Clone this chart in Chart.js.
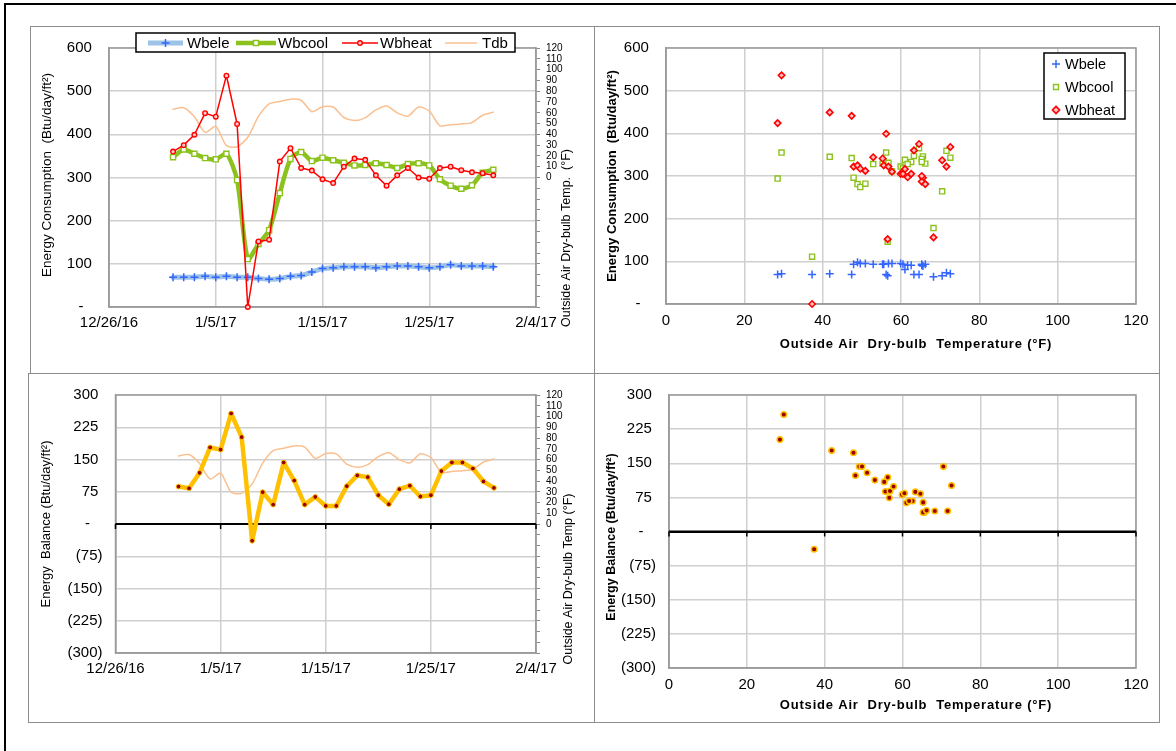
<!DOCTYPE html>
<html>
<head>
<meta charset="utf-8">
<script src="https://cdn.jsdelivr.net/npm/chart.js@4.4.0/dist/chart.umd.min.js"></script>
<style>
  body { margin:0; background:#fff; width:1176px; height:751px; overflow:hidden; position:relative; font-family:"Liberation Sans", Arial, sans-serif; }
  #frame { position:absolute; left:4px; top:3px; width:1200px; height:800px; border-left:2px solid #000; border-top:2px solid #000; }
  .panel { position:absolute; border:1px solid #8c8c8c; box-sizing:border-box; }
  canvas { position:absolute; }
</style>
</head>
<body>
<div id="frame"></div>
<div class="panel" style="left:30px;top:26px;width:565px;height:348px"></div>
<div class="panel" style="left:594px;top:26px;width:566px;height:348px"></div>
<div class="panel" style="left:28px;top:373px;width:567px;height:350px"></div>
<div class="panel" style="left:594px;top:373px;width:566px;height:350px"></div>
<canvas id="consTime" width="564" height="347" style="left:30px;top:26px"></canvas>
<canvas id="consTemp" width="565" height="347" style="left:594px;top:26px"></canvas>
<canvas id="balTime" width="566" height="349" style="left:28px;top:373px"></canvas>
<canvas id="balTemp" width="565" height="349" style="left:594px;top:373px"></canvas>
<script>
// daily values, 1/1/17 .. 1/31/17
const dates = ['1/1/17','1/2/17','1/3/17','1/4/17','1/5/17','1/6/17','1/7/17','1/8/17','1/9/17','1/10/17',
  '1/11/17','1/12/17','1/13/17','1/14/17','1/15/17','1/16/17','1/17/17','1/18/17','1/19/17','1/20/17',
  '1/21/17','1/22/17','1/23/17','1/24/17','1/25/17','1/26/17','1/27/17','1/28/17','1/29/17','1/30/17','1/31/17'];
const wbele  = [69,69,69,71,69,71,69,69,66,64,66,71,73,81,89,91,93,93,93,91,93,95,95,93,91,93,98,95,95,95,93];
const wbcool = [347,365,355,345,342,355,294,111,146,178,264,343,359,338,346,340,334,328,329,333,329,322,331,333,328,296,281,274,282,311,318];
const wbheat = [360,375,399,449,441,536,424,0,152,156,337,368,322,316,296,287,325,344,341,305,281,305,322,300,297,322,325,317,312,310,305];
const tdb    = [63.3,64.6,56.2,41.8,47.4,29.5,28.5,37.3,56.6,68.3,70.5,72.6,71.6,61,65.6,65.3,55.6,52.9,55.3,62.6,66.2,59.9,56.8,65.3,61.7,47.9,48.9,49.6,50.9,57.7,60.5];
const balance = [87,83,119,178,173,257,202,-39,74,45,143,101,45,63,42,42,88,113,109,67,46,81,89,64,67,123,143,143,129,99,84];

const dateTicks = ['12/26/16','1/5/17','1/15/17','1/25/17','2/4/17'];
const dateTickDays = [0,10,20,30,40];
const consumptionTicks = [0,100,200,300,400,500,600];
const balanceTicks = [-300,-225,-150,-75,0,75,150,225,300];
const tempTicks = [0,20,40,60,80,100,120];

Chart.defaults.font.family = '"Liberation Sans", Arial, sans-serif';
Chart.defaults.color = '#000';
Chart.defaults.animation = false;

const FONT = '"Liberation Sans", Arial, sans-serif';
const GRID = '#CFCFCF';
const EDGE = '#9A9A9A';
const origin = Date.UTC(2016, 11, 26);

function dayOf(s) {
  const [m, d, y] = s.split('/').map(Number);
  return (Date.UTC(2000 + y, m - 1, d) - origin) / 864e5;
}
function acct(v) {
  if (v === 0) return '-   ';
  if (v < 0) return '(' + (-v) + ')';
  return v + ' ';
}
function fixTicks(arr) {
  return s => { s.ticks = arr.map(v => ({ value: v })); };
}

function markPoint(ctx, style, x, y, r, stroke, fill, lw) {
  ctx.save();
  ctx.lineWidth = lw; ctx.strokeStyle = stroke; ctx.fillStyle = fill;
  ctx.beginPath();
  if (style === 'cross') {
    ctx.moveTo(x - r, y); ctx.lineTo(x + r, y); ctx.moveTo(x, y - r); ctx.lineTo(x, y + r); ctx.stroke();
  } else if (style === 'rect') {
    ctx.rect(x - r, y - r, 2 * r, 2 * r); ctx.fill(); ctx.stroke();
  } else if (style === 'rectRot') {
    ctx.moveTo(x, y - r); ctx.lineTo(x + r, y); ctx.lineTo(x, y + r); ctx.lineTo(x - r, y); ctx.closePath(); ctx.fill(); ctx.stroke();
  } else {
    ctx.arc(x, y, r, 0, Math.PI * 2); ctx.fill(); ctx.stroke();
  }
  ctx.restore();
}

// plot frame, zero-line ticks, axis titles, legend
function deco(cfg) {
  return {
    id: 'deco',
    beforeDatasetsDraw(chart) {
      const ctx = chart.ctx, a = chart.chartArea;
      ctx.save();
      ctx.strokeStyle = EDGE; ctx.lineWidth = 1.5;
      ctx.strokeRect(a.left, a.top, a.right - a.left, a.bottom - a.top);
      if (cfg.zeroTicks) {
        const y0 = chart.scales.y.getPixelForValue(0);
        ctx.strokeStyle = '#000'; ctx.lineWidth = 2;
        ctx.beginPath(); ctx.moveTo(a.left, y0); ctx.lineTo(a.right, y0); ctx.stroke();
        ctx.lineWidth = 1.5;
        chart.scales.x.ticks.forEach(t => {
          const px = chart.scales.x.getPixelForValue(t.value);
          ctx.beginPath(); ctx.moveTo(px, y0); ctx.lineTo(px, y0 + 5); ctx.stroke();
        });
      }
      ctx.restore();
    },
    afterDraw(chart) {
      const ctx = chart.ctx;
      (cfg.titles || []).forEach(t => {
        ctx.save();
        ctx.translate(t.x, t.y);
        if (t.rot) ctx.rotate(t.rot * Math.PI / 180);
        ctx.font = (t.bold ? 'bold ' : '') + t.size + 'px ' + FONT;
        if (t.spacing) ctx.letterSpacing = t.spacing;
        ctx.fillStyle = '#000'; ctx.textAlign = 'center'; ctx.textBaseline = 'middle';
        ctx.fillText(t.text, 0, 0);
        ctx.restore();
      });
      const lg = cfg.legend;
      if (lg) {
        ctx.save();
        ctx.fillStyle = '#fff'; ctx.strokeStyle = '#000'; ctx.lineWidth = 1.5;
        ctx.fillRect(lg.box[0], lg.box[1], lg.box[2], lg.box[3]);
        ctx.strokeRect(lg.box[0], lg.box[1], lg.box[2], lg.box[3]);
        ctx.font = lg.size + 'px ' + FONT; ctx.textBaseline = 'middle'; ctx.fillStyle = '#000';
        lg.items.forEach(it => {
          if (it.line) {
            ctx.strokeStyle = it.line; ctx.lineWidth = it.lw;
            ctx.beginPath(); ctx.moveTo(it.x0, it.y); ctx.lineTo(it.x1, it.y); ctx.stroke();
          }
          if (it.mark) markPoint(ctx, it.mark, it.mx, it.y, it.lr, it.stroke, it.fill, it.mlw);
          ctx.fillStyle = '#000';
          ctx.fillText(it.text, it.tx, it.y + 1);
        });
        ctx.restore();
      }
    }
  };
}

// r = Chart.js point radius, lr = radius used in the hand-drawn legend
const styles = {
  wbele:  { mark: 'cross',  r: 4,   lr: 4,   stroke: '#3366FF', fill: '#3366FF', mlw: 1.5, line: '#9DC3E6', lw: 5 },
  wbcool: { mark: 'rect',   r: 3.6, lr: 2.5, stroke: '#8CC21E', fill: '#FFFFFF', mlw: 1.4, line: '#8CC21E', lw: 4.5 },
  wbheat: { mark: 'circle', r: 2.3, lr: 2.3, stroke: '#FF0000', fill: '#FFC8C8', mlw: 1.4, line: '#FF0000', lw: 1.5 },
  tdb:    { line: '#FAC090', lw: 1.5 }
};

const timeData = arr => dates.map((d, i) => ({ x: dayOf(d), y: arr[i] }));
const tempData = arr => tdb.map((t, i) => ({ x: t, y: arr[i] }));

function timeX(h) {
  return {
    type: 'linear', min: 0, max: 40,
    afterBuildTicks: fixTicks(dateTickDays),
    ticks: { callback: (v, i) => dateTicks[i], padding: 7, maxRotation: 0, autoSkip: false, font: { size: 15 } },
    grid: { color: GRID, lineWidth: 1.5, drawTicks: false },
    border: { color: EDGE, width: 1.5 },
    afterFit: s => { s.height = h; }
  };
}
function tempX(h) {
  return {
    type: 'linear', min: 0, max: 120,
    afterBuildTicks: fixTicks(tempTicks),
    ticks: { padding: 8, maxRotation: 0, autoSkip: false, font: { size: 15 } },
    grid: { color: GRID, lineWidth: 1.5, drawTicks: false },
    border: { color: EDGE, width: 1.5 },
    afterFit: s => { s.height = h; }
  };
}
function valueY(min, max, tickArr, w, zero) {
  return {
    position: 'left', min: min, max: max,
    afterBuildTicks: fixTicks(tickArr),
    ticks: { callback: acct, padding: 13, autoSkip: false, font: { size: 15 } },
    grid: {
      color: c => (zero && c.tick && c.tick.value === 0) ? '#000' : GRID,
      lineWidth: c => (zero && c.tick && c.tick.value === 0) ? 2 : 1.5,
      drawTicks: false
    },
    border: { color: EDGE, width: 1.5 },
    afterFit: s => { s.width = w; }
  };
}
function tempY2() {
  return {
    position: 'right', min: -120, max: 120,
    ticks: { stepSize: 10, autoSkip: false, callback: v => v >= 0 ? v : '', padding: 6, font: { size: 10 } },
    grid: { drawOnChartArea: false, drawTicks: true, tickLength: 4, color: '#888', lineWidth: 1 },
    border: { color: EDGE, width: 1.5 },
    afterFit: s => { s.width = 58; }
  };
}
function lineSet(label, data, st, axis, order, tension) {
  return {
    label: label, data: data, yAxisID: axis, order: order, clip: false,
    borderColor: st.line, borderWidth: st.lw, tension: tension || 0,
    borderJoinStyle: 'round', borderCapStyle: 'round',
    pointStyle: st.mark || 'circle', pointRadius: st.mark ? st.r : 0,
    pointBorderColor: st.stroke, pointBackgroundColor: st.fill, pointBorderWidth: st.mlw
  };
}
const baseOpts = { responsive: false, events: [], plugins: { legend: { display: false }, tooltip: { enabled: false } } };

// top left: consumption over time
new Chart(document.getElementById('consTime'), {
  type: 'line',
  data: { datasets: [
    lineSet('Wbheat', timeData(wbheat), styles.wbheat, 'y', 1),
    lineSet('Wbcool', timeData(wbcool), styles.wbcool, 'y', 2, 0.25),
    lineSet('Wbele', timeData(wbele), styles.wbele, 'y', 3, 0.25),
    lineSet('Tdb', timeData(tdb), styles.tdb, 'y2', 4, 0.25)
  ] },
  options: Object.assign({}, baseOpts, {
    layout: { padding: { top: 17 } },
    scales: { x: timeX(66), y: valueY(0, 600, consumptionTicks, 79, false), y2: tempY2() }
  }),
  plugins: [deco({
    titles: [
      { text: 'Energy Consumption  (Btu/day/ft²)', x: 17, y: 149, rot: -90, size: 13.5 },
      { text: 'Outside Air Dry-bulb Temp.  (°F)', x: 537, y: 212, rot: -90, size: 12.5 }
    ],
    legend: { box: [106, 7, 379, 19], size: 15, items: [
      Object.assign({ text: 'Wbele', x0: 118, x1: 153, mx: 135.5, tx: 157, y: 17 }, styles.wbele),
      Object.assign({ text: 'Wbcool', x0: 206, x1: 246, mx: 226, tx: 248, y: 17 }, styles.wbcool),
      Object.assign({ text: 'Wbheat', x0: 312, x1: 348, mx: 330, tx: 350, y: 17 }, styles.wbheat),
      Object.assign({ text: 'Tdb', x0: 415, x1: 447, tx: 452, y: 17 }, styles.tdb)
    ] }
  })]
});

// top right: consumption vs outside temperature
const scatterHeat = { mark: 'rectRot', r: 3.2, lr: 3.6, stroke: '#FF0000', fill: '#FFC0C0', mlw: 1.6 };
function scatterSet(label, data, st, order) {
  return {
    label: label, data: data, order: order, clip: false, showLine: false,
    pointStyle: st.mark, pointRadius: st.r, pointBorderColor: st.stroke,
    pointBackgroundColor: st.fill, pointBorderWidth: st.mlw
  };
}
new Chart(document.getElementById('consTemp'), {
  type: 'scatter',
  data: { datasets: [
    scatterSet('Wbheat', tempData(wbheat), scatterHeat, 1),
    scatterSet('Wbcool', tempData(wbcool), styles.wbcool, 2),
    scatterSet('Wbele', tempData(wbele), styles.wbele, 3)
  ] },
  options: Object.assign({}, baseOpts, {
    layout: { padding: { top: 17, right: 23 } },
    scales: { x: tempX(69), y: valueY(0, 600, consumptionTicks, 72, false) }
  }),
  plugins: [deco({
    titles: [
      { text: 'Energy Consumption  (Btu/day/ft²)', x: 18, y: 150, rot: -90, size: 13, bold: true },
      { text: 'Outside Air  Dry-bulb  Temperature (°F)', x: 322, y: 318, size: 13, bold: true, spacing: '0.8px' }
    ],
    legend: { box: [450, 27, 81, 66], size: 14.5, items: [
      Object.assign({ text: 'Wbele', mx: 462, tx: 471, y: 38 }, styles.wbele, { line: null }),
      Object.assign({ text: 'Wbcool', mx: 462, tx: 471, y: 61 }, styles.wbcool, { line: null }),
      Object.assign({ text: 'Wbheat', mx: 462, tx: 471, y: 84 }, scatterHeat)
    ] }
  })]
});

// bottom left: energy balance over time
const balStyle = { mark: 'circle', r: 2.4, stroke: '#FFC000', fill: '#990000', mlw: 1, line: '#FFC000', lw: 4.5 };
new Chart(document.getElementById('balTime'), {
  type: 'line',
  data: { datasets: [
    lineSet('Balance', timeData(balance), balStyle, 'y', 1),
    lineSet('Tdb', timeData(tdb), styles.tdb, 'y2', 2, 0.25)
  ] },
  options: Object.assign({}, baseOpts, {
    layout: { padding: { top: 19 } },
    scales: { x: timeX(69), y: valueY(-300, 300, balanceTicks, 87.5, true), y2: tempY2() }
  }),
  plugins: [deco({
    zeroTicks: true,
    titles: [
      { text: 'Energy  Balance (Btu/day/ft²)', x: 18, y: 151, rot: -90, size: 13 },
      { text: 'Outside Air Dry-bulb Temp (°F)', x: 541, y: 206, rot: -90, size: 12.5 }
    ]
  })]
});

// bottom right: energy balance vs outside temperature
new Chart(document.getElementById('balTemp'), {
  type: 'scatter',
  data: { datasets: [
    scatterSet('Balance', tempData(balance), { mark: 'circle', r: 2.8, stroke: '#FFC000', fill: '#990000', mlw: 1.5 }, 1)
  ] },
  options: Object.assign({}, baseOpts, {
    layout: { padding: { top: 21, right: 23 } },
    scales: { x: tempX(54), y: valueY(-300, 300, balanceTicks, 75, true) }
  }),
  plugins: [deco({
    zeroTicks: true,
    titles: [
      { text: 'Energy Balance (Btu/day/ft²)', x: 18, y: 164, rot: -90, size: 12.5, bold: true },
      { text: 'Outside Air  Dry-bulb  Temperature (°F)', x: 322, y: 332, size: 13, bold: true, spacing: '0.8px' }
    ]
  })]
});
</script>
</body>
</html>
